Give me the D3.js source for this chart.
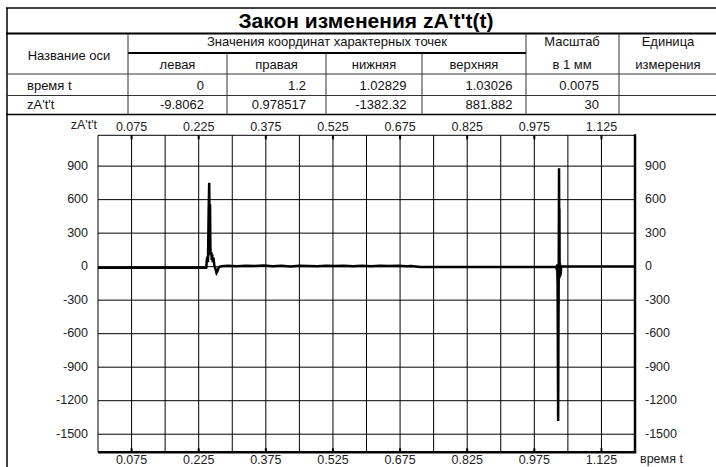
<!DOCTYPE html>
<html>
<head>
<meta charset="utf-8">
<script src="https://cdn.jsdelivr.net/npm/d3@7"></script>
<style>
  body { margin: 0; background: #fff; }
  svg { display: block; font-family: "Liberation Sans", Arial, sans-serif; }
  .cell { font-size: 13px; fill: #111; }
  .tick-label { font-size: 12.5px; fill: #222; }
</style>
</head>
<body>
<svg id="chart" width="716" height="467"></svg>
<script>
// table contents
const title = "Закон изменения zA't't(t)";
const pointHeaders = ['левая', 'правая', 'нижняя', 'верхняя'];
const axisNames = ['время t', "zA't't"];
const timeRow = ['0', '1.2', '1.02829', '1.03026', '0.0075', ''];
const zRow = ['-9.8062', '0.978517', '-1382.32', '881.882', '30', ''];

// axis ticks
const xLabelTicks = [0.075, 0.225, 0.375, 0.525, 0.675, 0.825, 0.975, 1.125];
const xGridTicks = [0.075, 0.15, 0.225, 0.3, 0.375, 0.45, 0.525, 0.6, 0.675, 0.75, 0.825, 0.9, 0.975, 1.05, 1.125];
const yTicks = [900, 600, 300, 0, -300, -600, -900, -1200, -1500];

// curve
const tValues = [0, 0.242, 0.2432, 0.2445, 0.2458, 0.2472, 0.2485, 0.2494, 0.2503, 0.2512, 0.2522,
  0.2532, 0.2542, 0.2552, 0.2565, 0.258, 0.260, 0.2625, 0.2648, 0.2668, 0.2695, 0.2725, 0.276,
  0.29, 0.31, 0.33, 0.35, 0.37, 0.39, 0.41, 0.43, 0.45, 0.47, 0.49, 0.51, 0.53, 0.55, 0.57,
  0.59, 0.61, 0.63, 0.65, 0.67, 0.69, 0.70, 0.72, 0.85, 1.0240, 1.0255, 1.0262, 1.0270, 1.0276,
  1.02829, 1.0289, 1.0294, 1.0298, 1.03026, 1.0307, 1.0311, 1.0316, 1.0322, 1.0330, 1.0340,
  1.0350, 1.0360, 1.2];
const zValues = [-9.8062, -9, 60, 90, 40, 480, 752, 300, 560, 150, 100,
  130, 60, 110, 40, 80, 10, -20, -55, -40, -10, 0, 4,
  8, 3, 9, 5, 10, 4, 7, 2, 9, 6, 3, 8, 5, 9, 4,
  7, 3, 8, 5, 9, 4, 6, -2, -3, -4, -30, 20, -150, -700,
  -1382.32, -600, -200, 300, 881.882, 200, 520, -100, 30, -80, -60,
  10, 0.978517, 0.978517];

const svg = d3.select('#chart');

// ---------- table ----------
const colX = [6, 128, 227, 326, 422, 526, 619, 716];
const tbl = svg.append('g');

tbl.append('line').attr('x1', 6).attr('x2', 716).attr('y1', 8).attr('y2', 8)
  .attr('stroke', '#000').attr('stroke-width', 1.5);
tbl.append('line').attr('x1', 7).attr('x2', 7).attr('y1', 8).attr('y2', 467)
  .attr('stroke', '#000').attr('stroke-width', 1.5);
tbl.append('line').attr('x1', 6).attr('x2', 716).attr('y1', 33.5).attr('y2', 33.5)
  .attr('stroke', '#000').attr('stroke-width', 2);
tbl.append('line').attr('x1', 128).attr('x2', 526).attr('y1', 53).attr('y2', 53)
  .attr('stroke', '#000').attr('stroke-width', 2);
[74, 95.5].forEach(yy => {
  tbl.append('line').attr('x1', 6).attr('x2', 716).attr('y1', yy).attr('y2', yy)
    .attr('stroke', '#333').attr('stroke-width', 1);
});
tbl.append('line').attr('x1', 6).attr('x2', 716).attr('y1', 114.5).attr('y2', 114.5)
  .attr('stroke', '#000').attr('stroke-width', 1.5);

colX.slice(1, 7).forEach((cx, i) => {
  const y0 = (i >= 1 && i <= 3) ? 53 : 33.5;
  tbl.append('line').attr('x1', cx).attr('x2', cx).attr('y1', y0).attr('y2', 114.5)
    .attr('stroke', '#333').attr('stroke-width', 1);
});

tbl.append('text').attr('x', 366).attr('y', 28).attr('text-anchor', 'middle')
  .style('font-size', '21px').style('font-weight', 'bold').attr('fill', '#000').text(title);

tbl.append('text').attr('class', 'cell').attr('x', 69).attr('y', 59.5).attr('text-anchor', 'middle').text('Название оси');
tbl.append('text').attr('class', 'cell').attr('x', 327).attr('y', 46).attr('text-anchor', 'middle').text('Значения координат характерных точек');
tbl.append('text').attr('class', 'cell').attr('x', 572).attr('y', 46).attr('text-anchor', 'middle').text('Масштаб');
tbl.append('text').attr('class', 'cell').attr('x', 572).attr('y', 69).attr('text-anchor', 'middle').text('в 1 мм');
tbl.append('text').attr('class', 'cell').attr('x', 668).attr('y', 46).attr('text-anchor', 'middle').text('Единица');
tbl.append('text').attr('class', 'cell').attr('x', 668).attr('y', 69).attr('text-anchor', 'middle').text('измерения');

pointHeaders.forEach((h, i) => {
  tbl.append('text').attr('class', 'cell').attr('x', (colX[i + 1] + colX[i + 2]) / 2)
    .attr('y', 69).attr('text-anchor', 'middle').text(h);
});

const valueRight = [204, 306, 406.5, 512.5, 599];
[timeRow, zRow].forEach((row, r) => {
  const ty = r === 0 ? 89.5 : 108.5;
  tbl.append('text').attr('class', 'cell').attr('x', 27).attr('y', ty).text(axisNames[r]);
  row.forEach((v, i) => {
    if (!v) return;
    tbl.append('text').attr('class', 'cell').attr('x', valueRight[i]).attr('y', ty)
      .attr('text-anchor', 'end').text(v);
  });
});

// ---------- plot ----------
const plotLeft = 98, plotRight = 635, plotTop = 135.3, plotBottom = 452.3;
const x = d3.scaleLinear().domain([0, 1.2]).range([plotLeft, plotRight]);
const y = d3.scaleLinear().domain([-1662, 1176]).range([plotBottom, plotTop]);

const grid = svg.append('g');
grid.selectAll('line.v').data(xGridTicks).enter().append('line')
  .attr('x1', d => x(d)).attr('x2', d => x(d)).attr('y1', plotTop).attr('y2', plotBottom)
  .attr('stroke', '#000').attr('stroke-width', 1);
grid.selectAll('line.h').data(yTicks).enter().append('line')
  .attr('x1', plotLeft).attr('x2', plotRight).attr('y1', d => y(d)).attr('y2', d => y(d))
  .attr('stroke', '#000').attr('stroke-width', 1);

// frame
svg.append('line').attr('x1', plotLeft).attr('x2', plotRight).attr('y1', plotTop).attr('y2', plotTop)
  .attr('stroke', '#000').attr('stroke-width', 1);
svg.append('line').attr('x1', plotLeft).attr('x2', plotLeft).attr('y1', plotTop).attr('y2', plotBottom)
  .attr('stroke', '#000').attr('stroke-width', 1);
svg.append('line').attr('x1', plotLeft).attr('x2', plotRight + 1.2).attr('y1', plotBottom).attr('y2', plotBottom)
  .attr('stroke', '#000').attr('stroke-width', 2.5);
svg.append('line').attr('x1', plotRight).attr('x2', plotRight).attr('y1', plotTop - 1).attr('y2', plotBottom)
  .attr('stroke', '#000').attr('stroke-width', 2.5);

// tick marks
svg.selectAll('line.tt').data(xLabelTicks).enter().append('line')
  .attr('x1', d => x(d)).attr('x2', d => x(d)).attr('y1', plotTop).attr('y2', plotTop + 4)
  .attr('stroke', '#000').attr('stroke-width', 2);
svg.selectAll('line.bt').data(xLabelTicks).enter().append('line')
  .attr('x1', d => x(d)).attr('x2', d => x(d)).attr('y1', plotBottom).attr('y2', plotBottom - 4)
  .attr('stroke', '#000').attr('stroke-width', 2);

// labels
const fmtX = d3.format('.3f');
svg.selectAll('text.xt').data(xLabelTicks).enter().append('text')
  .attr('class', 'tick-label').attr('x', d => x(d)).attr('y', 130.5)
  .attr('text-anchor', 'middle').text(d => fmtX(d));
svg.selectAll('text.xb').data(xLabelTicks).enter().append('text')
  .attr('class', 'tick-label').attr('x', d => x(d)).attr('y', 464)
  .attr('text-anchor', 'middle').text(d => fmtX(d));
svg.selectAll('text.yl').data(yTicks).enter().append('text')
  .attr('class', 'tick-label').attr('x', 88).attr('y', d => y(d) + 3.5)
  .attr('text-anchor', 'end').text(d => d);
svg.selectAll('text.yr').data(yTicks).enter().append('text')
  .attr('class', 'tick-label').attr('x', 645).attr('y', d => y(d) + 3.5)
  .text(d => d);
svg.append('text').attr('class', 'tick-label').attr('x', 97).attr('y', 129)
  .attr('text-anchor', 'end').text("zA't't");
svg.append('text').attr('class', 'tick-label').attr('x', 640).attr('y', 463).text('время t');

// curve
const points = tValues.map((t, i) => [t, zValues[i]]);
const line = d3.line().x(d => x(d[0])).y(d => y(d[1]));
svg.append('path').datum(points).attr('d', line)
  .attr('fill', 'none').attr('stroke', '#000').attr('stroke-width', 2.5)
  .attr('stroke-linejoin', 'miter');
</script>
</body>
</html>
